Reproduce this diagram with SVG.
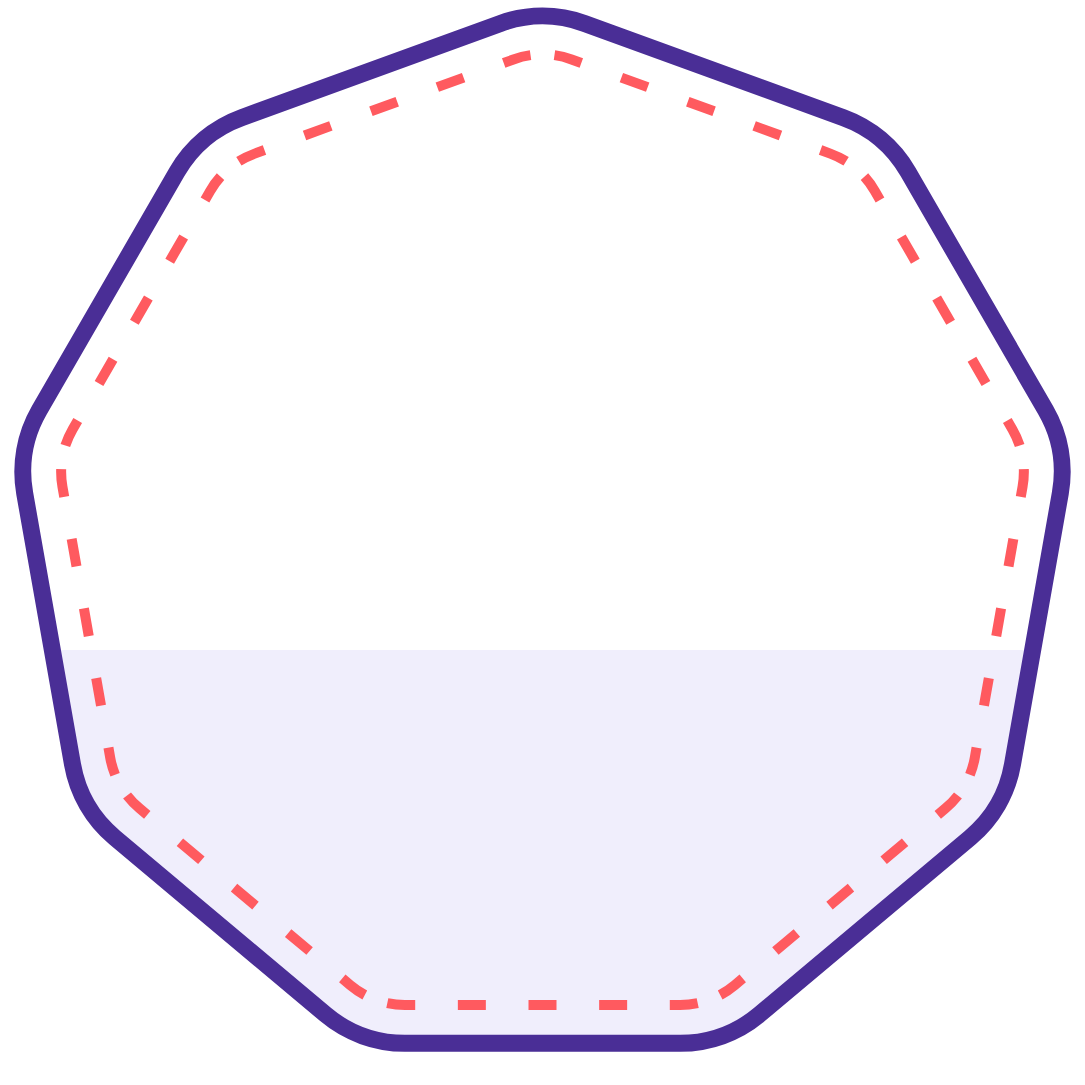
<svg xmlns="http://www.w3.org/2000/svg" width="1085" height="1085" viewBox="0 0 1085 1085">
  <defs>
    <style>
      .outline { fill: none; stroke: #4a2e96; stroke-width: 17; stroke-linejoin: round; }
      .dashed path { fill: none; stroke: #ff5a5f; stroke-width: 10; stroke-dasharray: 28 42.66; stroke-dashoffset: -12; stroke-linecap: butt; }
      .band { fill: #f0eefc; }
    </style>
    <clipPath id="shapeClip">
      <path d="M 500.43 23.41 A 123 123 0 0 1 584.57 23.41 L 843.49 117.65 A 123 123 0 0 1 907.95 171.73 L 1045.71 410.35 A 123 123 0 0 1 1060.32 493.21 L 1012.47 764.56 A 123 123 0 0 1 970.40 837.43 L 759.34 1014.53 A 123 123 0 0 1 680.27 1043.31 L 404.73 1043.31 A 123 123 0 0 1 325.66 1014.53 L 114.60 837.43 A 123 123 0 0 1 72.53 764.56 L 24.68 493.21 A 123 123 0 0 1 39.29 410.35 L 177.06 171.73 A 123 123 0 0 1 241.51 117.65 Z"/>
    </clipPath>
  </defs>
  <rect width="1085" height="1085" fill="#ffffff"/>
  <g id="nonagon">
    <rect class="band" x="0" y="650" width="1085" height="435" clip-path="url(#shapeClip)"/>
    <path class="outline" d="M 500.43 23.41 A 123 123 0 0 1 584.57 23.41 L 843.49 117.65 A 123 123 0 0 1 907.95 171.73 L 1045.71 410.35 A 123 123 0 0 1 1060.32 493.21 L 1012.47 764.56 A 123 123 0 0 1 970.40 837.43 L 759.34 1014.53 A 123 123 0 0 1 680.27 1043.31 L 404.73 1043.31 A 123 123 0 0 1 325.66 1014.53 L 114.60 837.43 A 123 123 0 0 1 72.53 764.56 L 24.68 493.21 A 123 123 0 0 1 39.29 410.35 L 177.06 171.73 A 123 123 0 0 1 241.51 117.65 Z"/>
  </g>
  <g id="inner-dashed" class="dashed">
    <path pathLength="334.64" d="M 542.5 54.33 A 85 85 0 0 1 571.57 59.45 L 830.28 153.61 A 85 85 0 0 1 855.84 168.37"/>
    <path pathLength="334.64" d="M 855.84 168.37 A 85 85 0 0 1 874.82 190.98 L 1012.47 429.41 A 85 85 0 0 1 1022.57 457.15"/>
    <path pathLength="334.64" d="M 1022.57 457.15 A 85 85 0 0 1 1022.57 486.67 L 974.76 757.80 A 85 85 0 0 1 964.67 785.54"/>
    <path pathLength="334.64" d="M 964.67 785.54 A 85 85 0 0 1 945.69 808.16 L 734.79 985.11 A 85 85 0 0 1 709.23 999.88"/>
    <path pathLength="334.64" d="M 709.23 999.88 A 85 85 0 0 1 680.15 1005 L 404.85 1005 A 85 85 0 0 1 375.77 999.88"/>
    <path pathLength="334.64" d="M 375.77 999.88 A 85 85 0 0 1 350.21 985.11 L 139.31 808.16 A 85 85 0 0 1 120.34 785.54"/>
    <path pathLength="334.64" d="M 120.34 785.54 A 85 85 0 0 1 110.24 757.80 L 62.43 486.67 A 85 85 0 0 1 62.43 457.15"/>
    <path pathLength="334.64" d="M 62.43 457.15 A 85 85 0 0 1 72.53 429.41 L 210.18 190.98 A 85 85 0 0 1 229.16 168.37"/>
    <path pathLength="334.64" d="M 229.16 168.37 A 85 85 0 0 1 254.72 153.61 L 513.43 59.45 A 85 85 0 0 1 542.5 54.33"/>
  </g>
</svg>
